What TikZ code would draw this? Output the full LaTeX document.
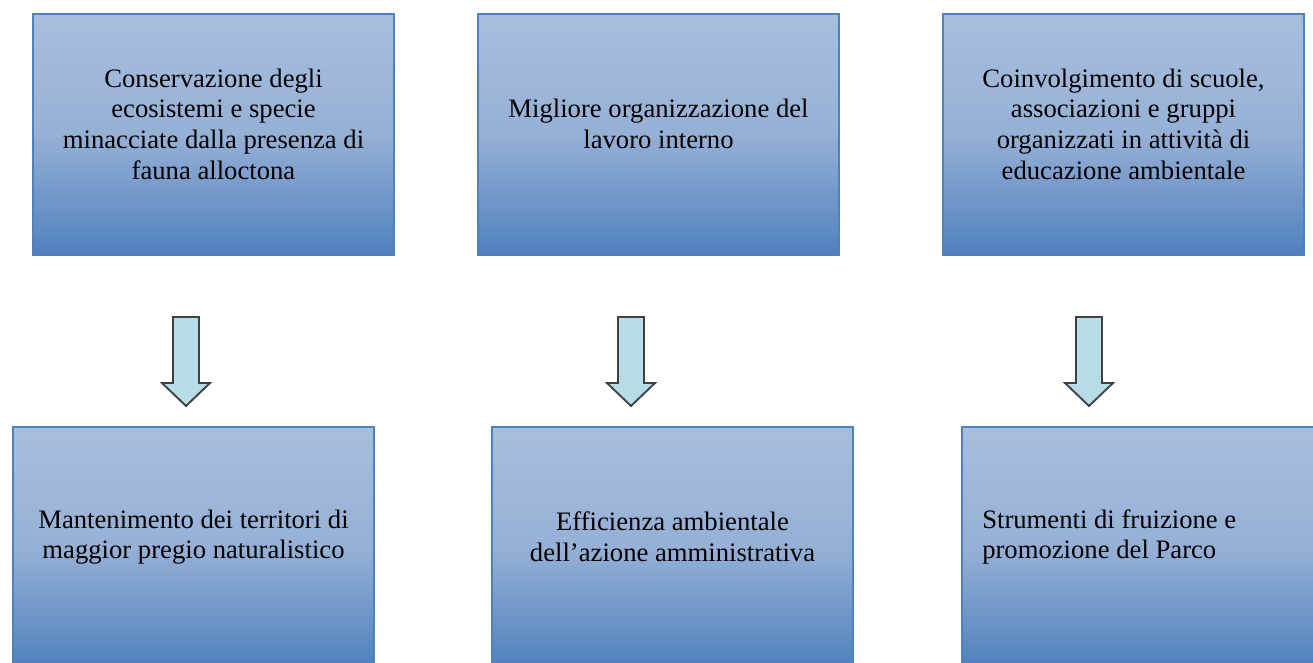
\documentclass[tikz,border=0pt]{standalone}
\usepackage{fontspec}
\setmainfont{Liberation Serif}
\usepackage{tikz}
\usetikzlibrary{calc}
\definecolor{boxtop}{RGB}{167,191,222}
\definecolor{boxmid}{RGB}{150,176,214}
\definecolor{boxbot}{RGB}{79,129,189}
\definecolor{boxline}{RGB}{79,129,189}
\definecolor{arrowfill}{RGB}{183,221,232}
\definecolor{arrowline}{RGB}{64,64,64}

\begin{document}
\begin{tikzpicture}[x=0.75pt,y=-0.75pt,
  goalbox/.style={draw=boxline,line width=1.5pt,top color=boxtop,bottom color=boxbot,middle color=boxmid,
    minimum width=361*0.75pt,minimum height=241*0.75pt,anchor=north west,inner sep=0pt},
  goaltext/.style={align=center,inner sep=0pt,font=\fontsize{20}{23}\selectfont},
  blockarrow/.style={draw=arrowline,fill=arrowfill,line width=1.4pt}]
  \clip (0,0) rectangle (1313,663);
  \node[goalbox] (obj1) at (32,13) {};
  \node[goalbox] (obj2) at (477,13) {};
  \node[goalbox] (obj3) at (942,13) {};
  \node[goalbox] (res1) at (12,426) {};
  \node[goalbox] (res2) at (491,426) {};
  \node[goalbox] (res3) at (961,426) {};
  \node[goaltext] (tobj1) at ($(obj1.center)+(0,-10.5)$) {Conservazione degli\\ecosistemi e specie\\minacciate dalla presenza di\\fauna alloctona};
  \node[goaltext] (tobj2) at ($(obj2.center)+(0,-10.5)$) {Migliore organizzazione del\\lavoro interno};
  \node[goaltext] (tobj3) at ($(obj3.center)+(0,-10.5)$) {Coinvolgimento di scuole,\\associazioni e gruppi\\organizzati in attività di\\educazione ambientale};
  \node[goaltext] (tres1) at ($(res1.center)+(0,-10.5)$) {Mantenimento dei territori di\\maggior pregio naturalistico};
  \node[goaltext] (tres2) at ($(res2.center)+(0,-10.5)$) {Efficienza ambientale\\dell’azione amministrativa};
  \node[goaltext,align=left,anchor=west] (tres3) at ($(res3.west)+(21,-10.5)$) {Strumenti di fruizione e\\promozione del Parco};
  \coordinate (a1) at (186,317);
  \coordinate (a2) at (631,317);
  \coordinate (a3) at (1089,317);
  \foreach \a in {a1,a2,a3}
    \draw[blockarrow] (\a) +(-13,0) -- +(13,0) -- +(13,66) -- +(24,66) -- +(0,89) -- +(-24,66) -- +(-13,66) -- cycle;
\end{tikzpicture}
\end{document}
